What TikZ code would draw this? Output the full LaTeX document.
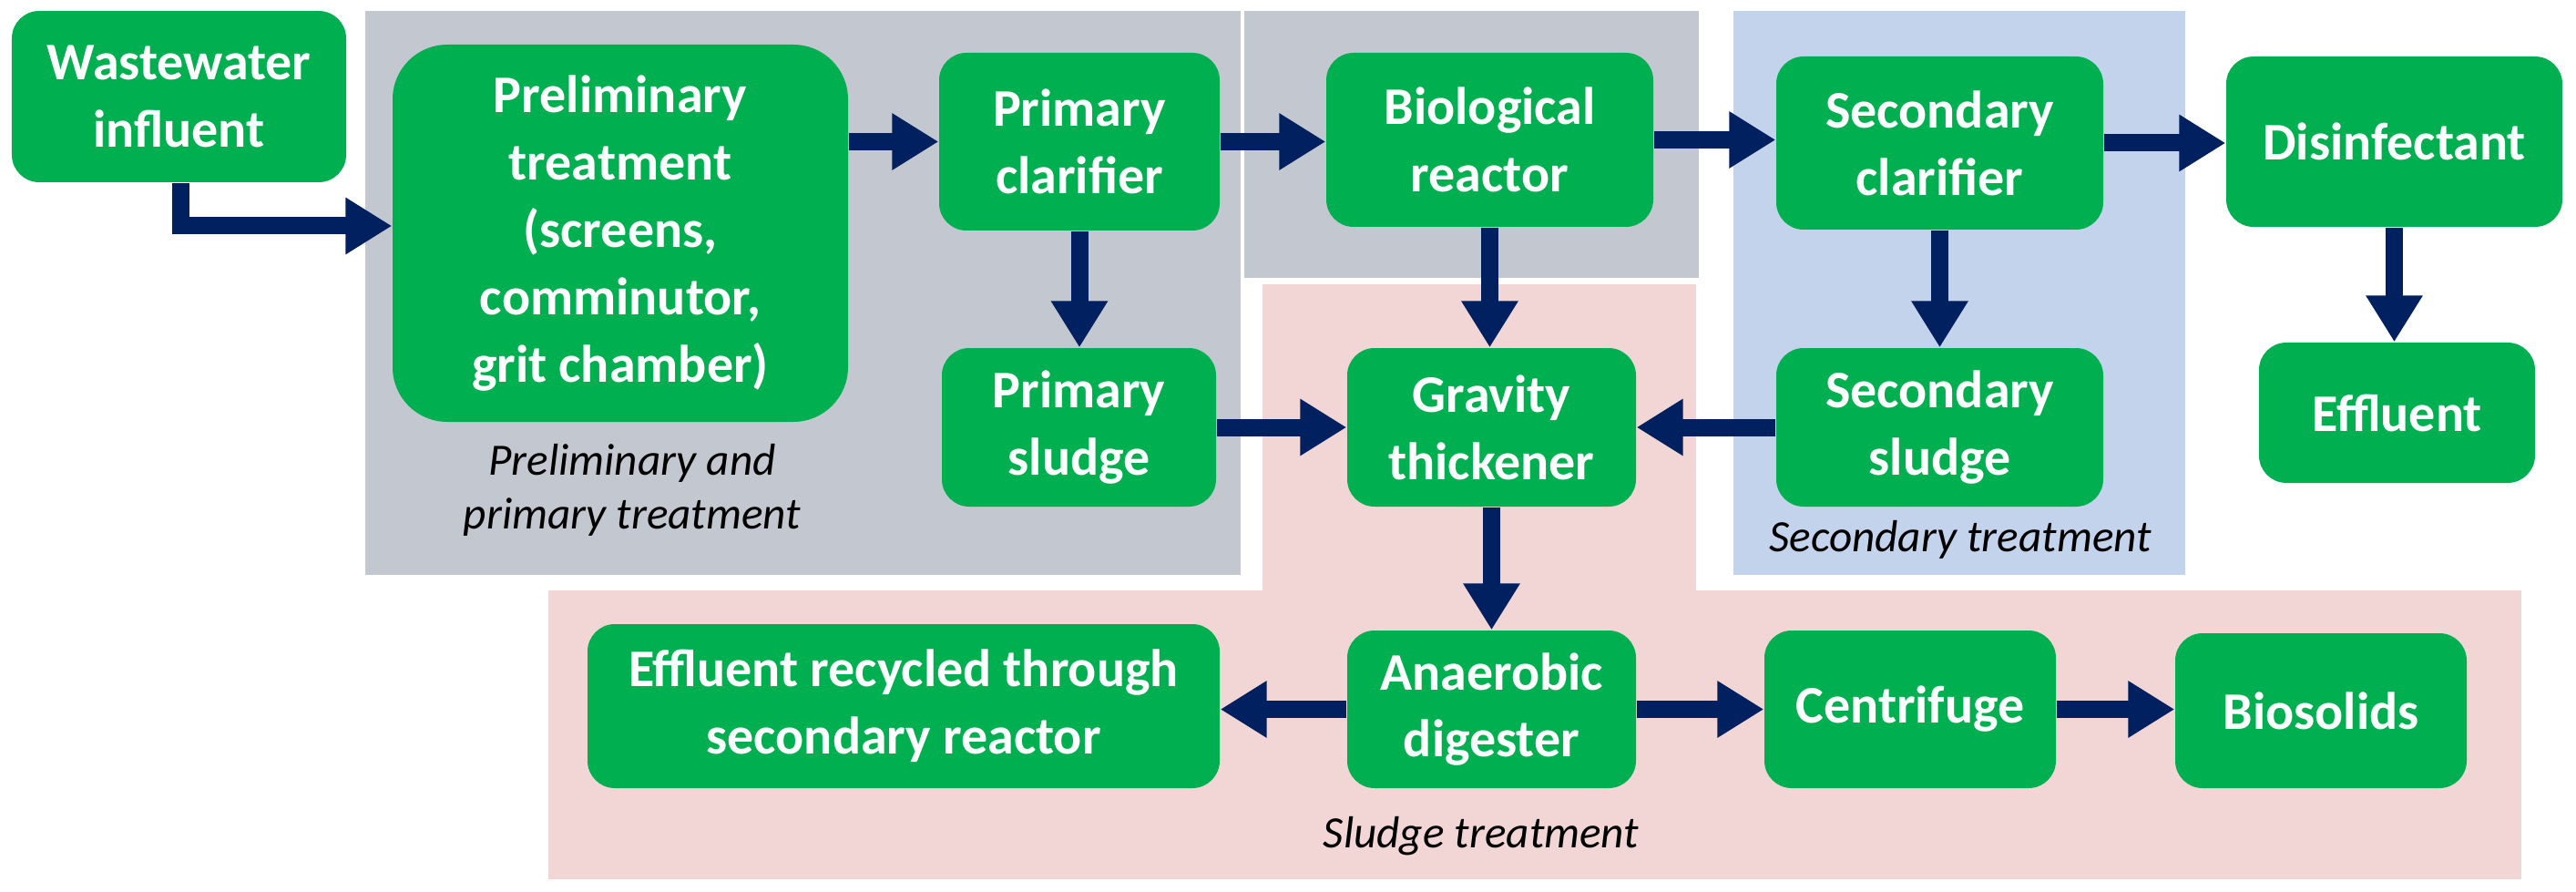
\documentclass[tikz,border=0pt]{standalone}
\usepackage{fontspec}
\setmainfont{Carlito}
\usetikzlibrary{arrows.meta}
\definecolor{gr}{HTML}{00AF50}
\definecolor{nv}{HTML}{002060}
\definecolor{gy}{HTML}{C3C7CF}
\definecolor{pk}{HTML}{F2D5D5}
\definecolor{bl}{HTML}{C3D3EC}
\tikzset{
 box/.style={fill=gr,draw=none,rounded corners=0.3cm,text=white,align=center,
   font=\bfseries\fontsize{16.5}{21}\selectfont,inner sep=0pt},
 lab/.style={font=\itshape\fontsize{14}{17}\selectfont,align=center,text=black},
 ar/.style={draw=nv,line width=0.19cm,-{Triangle[length=0.51cm,width=0.59cm]}},
}
\newcommand{\bx}[6]{\node[box,minimum width=#3cm-#2cm,minimum height=#5cm-#4cm] (#1) at ({(#2+#3)/2},{-(#4+#5)/2}) {#6};}
\begin{document}
\begin{tikzpicture}
\useasboundingbox (0,0) rectangle (28.28,-9.79);
% regions
\fill[gy] (4.01,-0.12) rectangle (13.62,-6.31);
\fill[gy] (13.66,-0.12) rectangle (18.65,-3.05);
\fill[pk] (13.86,-3.12) rectangle (18.62,-6.48);
\fill[pk] (6.02,-6.48) rectangle (27.68,-9.65);
\fill[bl] (19.03,-0.12) rectangle (23.99,-6.31);
% boxes
\bx{ww}{0.13}{3.80}{0.12}{2.00}{Wastewater\\influent}
\node[box,rounded corners=0.6cm,minimum width=5.0cm,minimum height=4.14cm] (pre) at (6.81,-2.56) {Preliminary\\treatment\\(screens,\\comminutor,\\grit chamber)};
\bx{pc}{10.31}{13.39}{0.58}{2.53}{Primary\\clarifier}
\bx{ps}{10.34}{13.35}{3.82}{5.56}{Primary\\sludge}
\bx{bio}{14.56}{18.15}{0.58}{2.49}{Biological\\reactor}
\bx{sc}{19.50}{23.09}{0.62}{2.52}{Secondary\\clarifier}
\bx{dis}{24.44}{28.13}{0.62}{2.49}{Disinfectant}
\bx{gt}{14.79}{17.96}{3.82}{5.56}{Gravity\\thickener}
\bx{ss}{19.50}{23.09}{3.82}{5.56}{Secondary\\sludge}
\bx{eff}{24.80}{27.83}{3.76}{5.30}{Effluent}
\bx{ad}{14.79}{17.96}{6.92}{8.65}{Anaerobic\\digester}
\bx{cf}{19.37}{22.57}{6.92}{8.65}{Centrifuge}
\bx{bs}{23.88}{27.08}{6.95}{8.65}{Biosolids}
\bx{rec}{6.45}{13.39}{6.85}{8.65}{Effluent recycled through\\secondary reactor}
% labels
\node[lab] (l1) at (6.94,-5.38) {Preliminary and\\primary treatment};
\node[lab] (l2) at (21.52,-5.92) {Secondary treatment};
\node[lab] (l3) at (16.26,-9.18) {Sludge treatment};
% arrows
\coordinate (k) at (1.98,-2.48);
\draw[ar] (ww.south -| k) -- (k) -- (k -| pre.west);
\draw[ar] (pre.east |- pc.west) -- (pc.west);
\draw[ar] (pc.east) -- (pc.east -| bio.west);
\draw[ar] (bio.east) -- (bio.east -| sc.west);
\draw[ar] (sc.east) -- (sc.east -| dis.west);
\draw[ar] (pc.south) -- (ps.north -| pc.south);
\draw[ar] (bio.south) -- (gt.north -| bio.south);
\draw[ar] (sc.south) -- (ss.north -| sc.south);
\draw[ar] (dis.south) -- (eff.north -| dis.south);
\draw[ar] (ps.east) -- (ps.east -| gt.west);
\draw[ar] (ss.west) -- (ss.west -| gt.east);
\draw[ar] (gt.south) -- (ad.north);
\draw[ar] (ad.west) -- (ad.west -| rec.east);
\draw[ar] (ad.east) -- (ad.east -| cf.west);
\draw[ar] (cf.east) -- (cf.east -| bs.west);
\end{tikzpicture}
\end{document}
